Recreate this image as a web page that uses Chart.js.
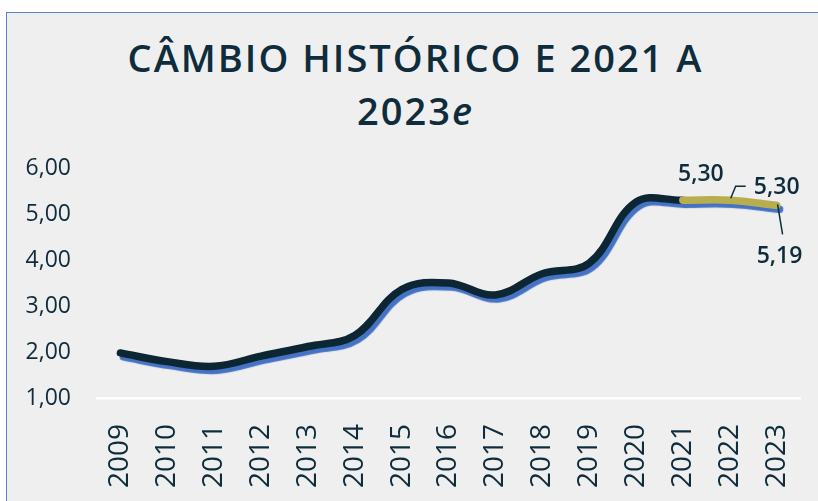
<!DOCTYPE html>
<html lang="pt-BR">
<head>
<meta charset="utf-8">
<script src="https://cdn.jsdelivr.net/npm/chart.js@4.4.1/dist/chart.umd.min.js"></script>
<style>
  html, body { margin: 0; padding: 0; background: #fff; }
  #wrap { position: relative; width: 818px; height: 501px; overflow: hidden; }
  #box {
    position: absolute; left: 6px; top: 12px; width: 840px; height: 520px;
    background: #efefef; border: 1.5px solid #5b83cc;
  }
  #titulo {
    position: absolute; left: 6px; top: 31px; width: 819px; margin: 0;
    text-align: center; font-family: "Open Sans", sans-serif; font-weight: 600;
    font-size: 38px; line-height: 53px; letter-spacing: 2px; color: #0e2c3b;
  }
  #cambioChart { position: absolute; left: 0; top: 0; }
</style>
</head>
<body>
<div id="wrap">
  <div id="box"></div>
  <h1 id="titulo">CÂMBIO HISTÓRICO E 2021 A<br>2023<i>e</i></h1>
  <canvas id="cambioChart" width="818" height="501"></canvas>
</div>
<script>
const anos = ['2009', '2010', '2011', '2012', '2013', '2014', '2015', '2016',
  '2017', '2018', '2019', '2020', '2021', '2022', '2023'];

// cambio medio historico (R$/US$)
const historico = [1.98, 1.79, 1.69, 1.91, 2.12, 2.36, 3.36, 3.50, 3.24, 3.70, 3.93, 5.26, 5.30, null, null];

// projecao 2021 a 2023
const projecao = [null, null, null, null, null, null, null, null, null, null, null, null, 5.30, 5.30, 5.19];

const yMin = 1;
const yMax = 6;

const textColor = '#0e2c3b';

const fmt = v => v.toFixed(2).replace('.', ',');

// blue drop shadow under the lines
const sombra = {
  id: 'sombra',
  beforeDatasetDraw(chart) {
    const c = chart.ctx;
    c.save();
    c.shadowColor = '#4472c4';
    c.shadowOffsetX = 3;
    c.shadowOffsetY = 4;
    c.shadowBlur = 1;
  },
  afterDatasetDraw(chart) {
    chart.ctx.restore();
  }
};

// data labels for the projection, with leader lines
const rotulos = {
  id: 'rotulos',
  afterDatasetsDraw(chart) {
    const c = chart.ctx;
    const meta = chart.getDatasetMeta(1);
    const pos = {
      12: { dx: 18, dy: -26 },
      13: { dx: 47, dy: -13, lead: [[1, -2], [6, -14], [16, -14]] },
      14: { dx: 3, dy: 51, lead: [[1, -1], [6, 29]] }
    };
    c.save();
    c.font = '600 23px "Open Sans"';
    c.fillStyle = textColor;
    c.strokeStyle = textColor;
    c.lineWidth = 1.5;
    c.textAlign = 'center';
    c.textBaseline = 'middle';
    Object.keys(pos).forEach(k => {
      const i = +k;
      const p = meta.data[i];
      const o = pos[k];
      if (o.lead) {
        c.beginPath();
        o.lead.forEach((pt, j) => {
          if (j === 0) c.moveTo(p.x + pt[0], p.y + pt[1]);
          else c.lineTo(p.x + pt[0], p.y + pt[1]);
        });
        c.stroke();
      }
      c.fillText(fmt(projecao[i]), p.x + o.dx, p.y + o.dy);
    });
    c.restore();
  }
};

const ctx = document.getElementById('cambioChart').getContext('2d');

const cambioChart = new Chart(ctx, {
  type: 'line',
  data: {
    labels: anos,
    datasets: [{
      label: 'Histórico',
      data: historico,
      borderColor: '#0c2634',
      borderWidth: 7.5,
      borderCapStyle: 'round',
      borderJoinStyle: 'round',
      pointRadius: 0,
      tension: 0.38,
      fill: false,
      order: 2
    }, {
      label: 'Projeção',
      data: projecao,
      borderColor: '#b9ae4f',
      borderWidth: 7.5,
      borderCapStyle: 'round',
      borderJoinStyle: 'round',
      pointRadius: 0,
      tension: 0.38,
      fill: false,
      order: 1
    }]
  },
  options: {
    responsive: false,
    devicePixelRatio: 1,
    animation: false,
    layout: { padding: { left: 0, right: 18, top: 168, bottom: 0 } },
    plugins: {
      legend: { display: false },
      title: { display: false },
      tooltip: { enabled: false }
    },
    scales: {
      x: {
        offset: true,
        grid: { display: false, drawTicks: false },
        border: { display: true, color: '#ffffff', width: 2.5 },
        ticks: {
          color: textColor,
          font: { family: 'Open Sans', size: 28 },
          autoSkip: false,
          maxRotation: 90,
          minRotation: 90,
          padding: 26
        },
        afterFit(scale) {
          scale.height = 103;
          scale.paddingLeft = 0;
          scale.paddingRight = 0;
        }
      },
      y: {
        min: yMin,
        max: yMax,
        grid: { display: false, drawTicks: false },
        border: { display: false },
        ticks: {
          stepSize: 1,
          color: textColor,
          font: { family: 'Open Sans', size: 23 },
          padding: 26,
          callback: v => fmt(v)
        },
        afterFit(scale) {
          scale.width = 97;
          scale.paddingTop = 0;
          scale.paddingBottom = 0;
        }
      }
    }
  },
  plugins: [sombra, rotulos]
});
</script>
</body>
</html>
